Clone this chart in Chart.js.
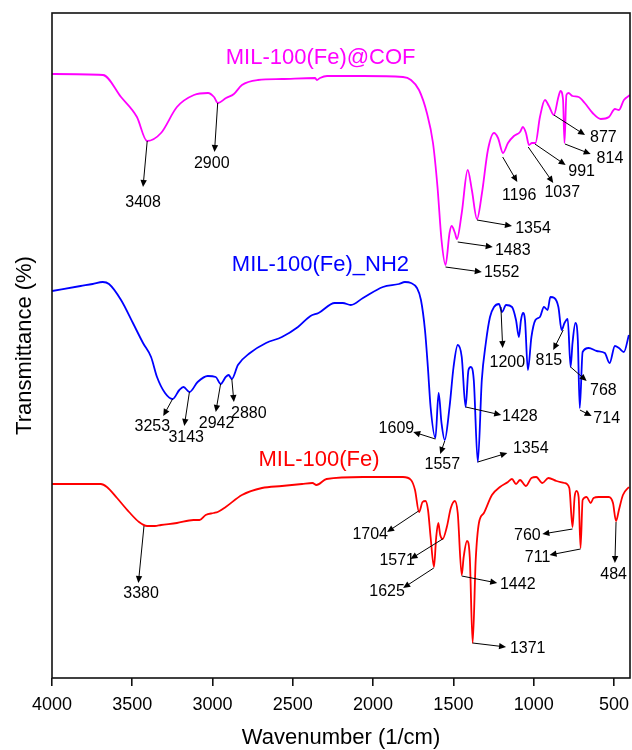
<!DOCTYPE html>
<html>
<head>
<meta charset="utf-8">
<title>FTIR spectra</title>
<script src="https://cdn.jsdelivr.net/npm/chart.js@4.4.1/dist/chart.umd.min.js"></script>
<style>
  html, body { margin: 0; padding: 0; background: #fff; }
</style>
</head>
<body>
<canvas id="ftir" width="632" height="750"></canvas>
<script>
const FONT = 'Arial, "Liberation Sans", sans-serif';

const xTicks = [4000, 3500, 3000, 2500, 2000, 1500, 1000, 500];

// MIL-100(Fe)@COF (offset trace, arbitrary transmittance units)
const cofWave = [4000, 3682, 3570, 3471, 3408, 3321, 3222, 3116, 3028, 2991, 2966, 2916, 2867, 2817, 2717, 2568, 2362, 2350, 2331, 2287, 2063, 1814, 1764, 1714, 1665, 1627, 1599, 1574, 1549, 1524, 1511, 1490, 1478, 1448, 1411, 1385, 1353, 1322, 1285, 1247, 1222, 1191, 1160, 1123, 1085, 1067, 1048, 1029, 1011, 989, 961, 930, 905, 874, 846, 833, 817, 808, 796, 783, 758, 720, 682, 633, 582, 531, 494, 469, 438, 400];
const cofT = [604, 603, 581, 561, 537, 545, 571, 583, 585, 581, 575, 580, 584, 593, 598, 599, 600, 598, 600, 602, 602, 601, 598, 588, 565, 535, 491, 438, 413, 445, 452, 445, 439, 465, 508, 488, 459, 485, 528, 545, 540, 525, 535, 542, 546, 551, 545, 533, 535, 535, 561, 578, 572, 563, 581, 587, 578, 535, 583, 585, 582, 581, 575, 565, 559, 561, 569, 568, 578, 583];

// MIL-100(Fe)_NH2
const nh2Wave = [4000, 3822, 3747, 3684, 3645, 3570, 3496, 3433, 3383, 3346, 3296, 3249, 3207, 3181, 3144, 3093, 3030, 2980, 2950, 2918, 2900, 2880, 2842, 2767, 2667, 2568, 2468, 2390, 2340, 2239, 2189, 2139, 2063, 1939, 1839, 1802, 1764, 1727, 1702, 1677, 1659, 1642, 1612, 1592, 1574, 1554, 1524, 1499, 1473, 1448, 1424, 1406, 1391, 1373, 1348, 1323, 1298, 1272, 1247, 1216, 1197, 1172, 1135, 1110, 1092, 1079, 1067, 1054, 1036, 1014, 989, 961, 936, 913, 896, 871, 846, 826, 808, 788, 770, 758, 740, 725, 713, 695, 657, 607, 557, 527, 494, 469, 438, 407];
const nh2T = [387, 392, 394, 396, 394, 378, 355, 335, 321, 301, 285, 279, 288, 291, 286, 296, 302, 301, 294, 301, 303, 299, 313, 325, 335, 341, 351, 362, 365, 375, 375, 373, 380, 391, 394, 396, 395, 390, 378, 348, 311, 271, 240, 285, 255, 238, 271, 311, 333, 321, 271, 308, 311, 298, 216, 298, 335, 361, 371, 374, 366, 373, 371, 358, 341, 358, 365, 358, 308, 341, 358, 361, 371, 368, 381, 380, 371, 348, 355, 359, 311, 335, 355, 338, 270, 326, 330, 327, 325, 315, 332, 330, 326, 343];

// MIL-100(Fe)
const feWave = [4000, 3696, 3658, 3595, 3520, 3458, 3408, 3359, 3321, 3222, 3119, 3081, 3043, 2993, 2968, 2918, 2817, 2692, 2568, 2443, 2378, 2353, 2290, 2063, 1814, 1764, 1739, 1714, 1692, 1674, 1658, 1642, 1621, 1607, 1594, 1582, 1567, 1541, 1516, 1491, 1473, 1448, 1436, 1415, 1398, 1380, 1361, 1341, 1310, 1260, 1210, 1160, 1135, 1110, 1085, 1048, 1014, 984, 946, 908, 858, 808, 778, 758, 745, 733, 720, 708, 695, 670, 645, 627, 595, 532, 506, 487, 469, 444, 407];
const feT = [194, 194, 191, 180, 166, 156, 152, 152, 153, 155, 158, 158, 163, 165, 166, 171, 183, 190, 192, 194, 195, 193, 199, 201, 201, 198, 188, 166, 176, 177, 168, 141, 111, 141, 155, 143, 139, 151, 170, 177, 165, 103, 121, 137, 121, 35, 118, 155, 165, 183, 191, 196, 199, 194, 198, 192, 200, 201, 195, 200, 197, 195, 190, 151, 181, 187, 181, 130, 178, 181, 175, 180, 181, 181, 175, 157, 168, 183, 191];

const seriesNames = ['MIL-100(Fe)@COF', 'MIL-100(Fe)_NH2', 'MIL-100(Fe)'];
const seriesColors = ['#ff00ff', '#0000ff', '#ff0000'];
// where each name sits (wavenumber, transmittance)
const namePos = [[2327, 620], [2328, 413], [2337, 218]];

// peak labels: text, peak, arrow tip, text anchor, text align
const peaks = [
  ['3408', [3407, 537], [3433, 491], [3433, 475], 'center'],
  ['2900', [2968, 575], [2988, 526], [3005, 514], 'center'],
  ['1552', [1549, 411], [1323, 406], [1310, 405], 'left'],
  ['1483', [1473, 436], [1255, 431], [1241, 427], 'left'],
  ['1354', [1353, 458], [1135, 452], [1115, 449], 'left'],
  ['1196', [1193, 521], [1102, 496], [1090, 482], 'center'],
  ['1037', [1034, 531], [878, 495], [822, 485], 'center'],
  ['991', [992, 534], [801, 513], [701, 506], 'center'],
  ['877', [874, 563], [680, 543], [566, 540], 'center'],
  ['814', [805, 534], [645, 524], [525, 519], 'center'],

  ['3253', [3249, 279], [3307, 262], [3375, 251], 'center'],
  ['3143', [3144, 286], [3176, 252], [3164, 240], 'center'],
  ['2942', [2950, 294], [2980, 266], [2975, 254], 'center'],
  ['2880', [2880, 299], [2867, 276], [2774, 264], 'center'],
  ['1609', [1612, 239], [1750, 246], [1855, 249], 'center'],
  ['1557', [1554, 237], [1582, 224], [1569, 213], 'center'],
  ['1428', [1423, 271], [1202, 263], [1197, 261], 'left'],
  ['1354', [1348, 216], [1164, 225], [1129, 229], 'left'],
  ['1200', [1204, 371], [1193, 330], [1164, 315], 'center'],
  ['815', [816, 348], [878, 328], [905, 317], 'center'],
  ['768', [770, 311], [670, 297], [566, 287], 'center'],
  ['714', [712, 268], [639, 262], [545, 259], 'center'],

  ['3380', [3427, 152], [3462, 95], [3445, 84], 'center'],
  ['1704', [1717, 167], [1913, 146], [2018, 143], 'center'],
  ['1571', [1567, 139], [1767, 119], [1850, 117], 'center'],
  ['1625', [1622, 110], [1813, 90], [1913, 86], 'center'],
  ['1442', [1448, 102], [1227, 95], [1210, 93], 'left'],
  ['1371', [1380, 35], [1172, 31], [1148, 29], 'left'],
  ['760', [758, 149], [946, 144], [1039, 142], 'center'],
  ['711', [708, 129], [901, 123], [976, 120], 'center'],
  ['484', [487, 156], [494, 115], [502, 103], 'center']
];

function toPoints(wave, t) {
  return wave.map((w, i) => ({ x: w, y: t[i] }));
}

const series = [[cofWave, cofT], [nh2Wave, nh2T], [feWave, feT]];

const datasets = series.map((s, i) => ({
  label: seriesNames[i],
  data: toPoints(s[0], s[1]),
  borderColor: seriesColors[i],
  borderWidth: 1.8,
  pointRadius: 0,
  cubicInterpolationMode: 'monotone',
  fill: false
}));

function arrow(ctx, x1, y1, x2, y2) {
  const a = Math.atan2(y2 - y1, x2 - x1);
  const len = 7, half = 3.2;
  ctx.beginPath();
  ctx.moveTo(x1, y1);
  ctx.lineTo(x2 - Math.cos(a) * len * 0.8, y2 - Math.sin(a) * len * 0.8);
  ctx.stroke();
  ctx.beginPath();
  ctx.moveTo(x2, y2);
  ctx.lineTo(x2 - Math.cos(a) * len - Math.sin(a) * half, y2 - Math.sin(a) * len + Math.cos(a) * half);
  ctx.lineTo(x2 - Math.cos(a) * len + Math.sin(a) * half, y2 - Math.sin(a) * len - Math.cos(a) * half);
  ctx.closePath();
  ctx.fill();
}

const extras = {
  id: 'extras',
  afterDatasetsDraw(chart) {
    const { ctx, chartArea: a, scales: { x, y } } = chart;
    ctx.save();

    // frame
    ctx.strokeStyle = '#111';
    ctx.lineWidth = 1.6;
    ctx.strokeRect(a.left, a.top, a.right - a.left, a.bottom - a.top);

    // series names
    ctx.font = '22px ' + FONT;
    ctx.textAlign = 'center';
    ctx.textBaseline = 'middle';
    seriesNames.forEach((name, i) => {
      ctx.fillStyle = seriesColors[i];
      ctx.fillText(name, x.getPixelForValue(namePos[i][0]), y.getPixelForValue(namePos[i][1]));
    });

    // peak arrows and labels
    ctx.strokeStyle = '#000';
    ctx.fillStyle = '#000';
    ctx.lineWidth = 1;
    ctx.font = '16px ' + FONT;
    peaks.forEach(p => {
      const [text, from, to, at, align] = p;
      arrow(ctx,
        x.getPixelForValue(from[0]), y.getPixelForValue(from[1]),
        x.getPixelForValue(to[0]), y.getPixelForValue(to[1]));
      ctx.textAlign = align;
      ctx.fillText(text, x.getPixelForValue(at[0]), y.getPixelForValue(at[1]));
    });
    ctx.restore();
  }
};

new Chart(document.getElementById('ftir'), {
  type: 'line',
  data: { datasets: datasets },
  options: {
    responsive: false,
    devicePixelRatio: 1,
    animation: false,
    layout: { padding: { left: 12, right: 2, top: 13, bottom: 0 } },
    plugins: { legend: { display: false }, tooltip: { enabled: false } },
    scales: {
      x: {
        type: 'linear',
        reverse: true,
        min: 400,
        max: 4000,
        afterBuildTicks: s => { s.ticks = xTicks.map(v => ({ value: v })); },
        afterFit: s => { s.height = 72; s.paddingLeft = 0; s.paddingRight = 0; },
        border: { display: false },
        grid: { drawOnChartArea: false, drawTicks: true, tickLength: 8, color: '#111', lineWidth: 1.6 },
        ticks: {
          color: '#000',
          font: { size: 18, family: FONT },
          padding: 8,
          maxRotation: 0,
          autoSkip: false,
          callback: v => String(v)
        },
        title: {
          display: true,
          text: 'Wavenumber (1/cm)',
          color: '#000',
          font: { size: 22, family: FONT },
          padding: { top: 0, bottom: -1 }
        }
      },
      y: {
        min: 0,
        max: 665,
        afterFit: s => { s.width = 40; s.paddingTop = 0; s.paddingBottom = 0; },
        border: { display: false },
        grid: { display: false },
        ticks: { display: false },
        title: {
          display: true,
          text: 'Transmittance (%)',
          color: '#000',
          font: { size: 22, family: FONT },
          padding: { top: 0, bottom: 0 }
        }
      }
    }
  },
  plugins: [extras]
});
</script>
</body>
</html>
